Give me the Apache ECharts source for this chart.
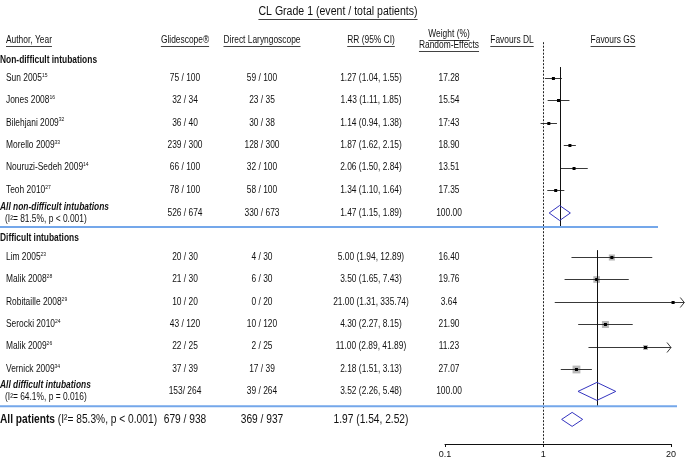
<!DOCTYPE html>
<html><head><meta charset="utf-8">
<script src="https://cdn.jsdelivr.net/npm/echarts@6/dist/echarts.min.js"></script>
<style>html,body{margin:0;padding:0;background:#fff}#c{width:685px;height:462px}</style>
</head><body><div id="c"></div>
<script>
// ---------------- DATA ----------------
const chartTitle = 'CL Grade 1 (event / total patients)';
const headAuthor = 'Author, Year';
const headGS = 'Glidescope®';
const headDL = 'Direct Laryngoscope';
const headRR = 'RR (95% CI)';
const headW1 = 'Weight (%)';
const headW2 = 'Random-Effects';
const headFavDL = 'Favours DL';
const headFavGS = 'Favours GS';

const groupNames = ['Non-difficult intubations', 'Difficult intubations'];

// Non-difficult intubations
const studiesA = ['Sun 2005', 'Jones 2008', 'Bilehjani 2009', 'Morello 2009', 'Nouruzi-Sedeh 2009', 'Teoh 2010'];
const refsA = ['15', '16', '32', '33', '14', '27'];
const gsEventsA = [75, 32, 36, 239, 66, 78];
const gsTotalA = [100, 34, 40, 300, 100, 100];
const dlEventsA = [59, 23, 30, 128, 32, 58];
const dlTotalA = [100, 35, 38, 300, 100, 100];
const rrA = [1.27, 1.43, 1.14, 1.87, 2.06, 1.34];
const loA = [1.04, 1.11, 0.94, 1.62, 1.50, 1.10];
const hiA = [1.55, 1.85, 1.38, 2.15, 2.84, 1.64];
const weightA = ['17.28', '15.54', '17:43', '18.90', '13.51', '17.35'];

// Difficult intubations
const studiesB = ['Lim 2005', 'Malik 2008', 'Robitaille 2008', 'Serocki 2010', 'Malik 2009', 'Vernick 2009'];
const refsB = ['23', '28', '29', '24', '26', '34'];
const gsEventsB = [20, 21, 10, 43, 22, 37];
const gsTotalB = [30, 30, 20, 120, 25, 39];
const dlEventsB = [4, 6, 0, 10, 2, 17];
const dlTotalB = [30, 30, 20, 120, 25, 39];
const rrB = [5.00, 3.50, 21.00, 4.30, 11.00, 2.18];
const loB = [1.94, 1.65, 1.31, 2.27, 2.89, 1.51];
const hiB = [12.89, 7.43, 335.74, 8.15, 41.89, 3.13];
const weightB = ['16.40', '19.76', '3.64', '21.90', '11.23', '27.07'];

// Pooled estimates: [non-difficult, difficult, all patients]
const sumLabels = ['All non-difficult intubations', 'All difficult intubations', 'All patients'];
const sumHet = ['(I²= 81.5%, p < 0.001)', '(I²= 64.1%, p = 0.016)', '(I²= 85.3%, p < 0.001)'];
const sumGS = ['526 / 674', '153/ 264', '679 / 938'];
const sumDL = ['330 / 673', '39 / 264', '369 / 937'];
const sumRR = [1.47, 3.52, 1.97];
const sumLo = [1.15, 2.26, 1.54];
const sumHi = [1.89, 5.48, 2.52];
const sumWeight = ['100.00', '100.00', ''];

const tickValues = [0.1, 1, 20];
const tickLabels = ['0.1', '1', '20'];

// ---------------- LAYOUT ----------------
const FONT = '"Liberation Sans", Arial, Helvetica, sans-serif';
const SX = 0.84;
const COL = { author: 6, gs: 185, dl: 262, rr: 371, w: 449, favDL: 512, favGS: 613 };
const ROW = {
  title: -1.97, head: -0.70, headW1: -0.95, headW2: -0.47,
  groupA: 0.2, firstA: 1, sumA: 7.03, sepA: 7.66,
  groupB: 8.15, firstB: 9, sumB: 15.0, sepB: 15.66, all: 16.25
};
const measureCtx = document.createElement('canvas').getContext('2d');
function tw(str, size, weight, style) {
  measureCtx.font = (style || 'normal') + ' ' + (weight || 'normal') + ' ' + size + 'px ' + FONT;
  return measureCtx.measureText(str).width;
}
function txt(x, y, text, o) {
  o = o || {};
  return {
    type: 'text', x: x, y: y, scaleX: o.sx || SX, scaleY: 1, silent: true,
    style: {
      text: text, x: 0, y: 0, align: o.align || 'left', verticalAlign: 'middle',
      fontSize: o.size || 10, fontFamily: FONT, fontWeight: o.weight || 'normal',
      fontStyle: o.style || 'normal', fill: '#111', rich: o.rich
    }
  };
}
function uline(x, y, text, o) {
  o = o || {};
  const size = o.size || 10;
  const w = tw(text, size, o.weight, o.style) * (o.sx || SX);
  const x1 = (o.align === 'center') ? x - w / 2 : x;
  const yy = Math.round(y + size * 0.5 + 1) + 0.5;
  return { type: 'line', silent: true, shape: { x1: x1, y1: yy, x2: x1 + w, y2: yy },
    style: { stroke: '#111', lineWidth: 0.8 } };
}
function hdr(x, y, text, o) { o = Object.assign({ align: 'center' }, o || {}); return [txt(x, y, text, o), uline(x, y, text, o)]; }
const richStudy = {
  n: { fontSize: 10, fontFamily: FONT, fill: '#111', lineHeight: 12 },
  s: { fontSize: 6, fontFamily: FONT, fill: '#111', lineHeight: 12, verticalAlign: 'top' }
};
function rrText(r, l, h) { return r.toFixed(2) + ' (' + l.toFixed(2) + ', ' + h.toFixed(2) + ')'; }

// ---------------- TABLE ROWS ----------------
const tableRows = [];
tableRows.push({ row: ROW.title, draw: y => hdr(338, y, chartTitle, { size: 12.5, sx: 0.845 }) });
tableRows.push({ row: ROW.head, draw: y => [].concat(
  hdr(COL.author, y, headAuthor, { align: 'left' }),
  hdr(COL.gs, y, headGS), hdr(COL.dl, y, headDL), hdr(COL.rr, y, headRR),
  hdr(COL.favDL, y, headFavDL), hdr(COL.favGS, y, headFavGS)) });
tableRows.push({ row: ROW.headW1, draw: y => hdr(COL.w, y, headW1) });
tableRows.push({ row: ROW.headW2, draw: y => hdr(COL.w, y, headW2) });

function addGroup(gi, names, refs, ge, gt, de, dt, rr, lo, hi, wt, rowGroup, rowFirst) {
  tableRows.push({ row: rowGroup, draw: y => [txt(0, y, groupNames[gi], { weight: 'bold' })] });
  names.forEach((nm, i) => {
    tableRows.push({ row: rowFirst + i, draw: y => [
      txt(COL.author, y, '{n|' + nm + '}{s|' + refs[i] + '}', { rich: richStudy }),
      txt(COL.gs, y, ge[i] + ' / ' + gt[i], { align: 'center' }),
      txt(COL.dl, y, de[i] + ' / ' + dt[i], { align: 'center' }),
      txt(COL.rr, y, rrText(rr[i], lo[i], hi[i]), { align: 'center' }),
      txt(COL.w, y, wt[i], { align: 'center' })
    ] });
  });
}
addGroup(0, studiesA, refsA, gsEventsA, gsTotalA, dlEventsA, dlTotalA, rrA, loA, hiA, weightA, ROW.groupA, ROW.firstA);
addGroup(1, studiesB, refsB, gsEventsB, gsTotalB, dlEventsB, dlTotalB, rrB, loB, hiB, weightB, ROW.groupB, ROW.firstB);

[ROW.sumA, ROW.sumB].forEach((r, k) => {
  tableRows.push({ row: r - 0.26, draw: y => [txt(0, y, sumLabels[k], { weight: 'bold', style: 'italic' })] });
  tableRows.push({ row: r + 0.27, draw: y => [txt(5, y, sumHet[k])] });
  tableRows.push({ row: r, draw: y => [
    txt(COL.gs, y, sumGS[k], { align: 'center' }),
    txt(COL.dl, y, sumDL[k], { align: 'center' }),
    txt(COL.rr, y, rrText(sumRR[k], sumLo[k], sumHi[k]), { align: 'center' }),
    txt(COL.w, y, sumWeight[k], { align: 'center' })
  ] });
});
tableRows.push({ row: ROW.all, draw: y => [
  txt(0, y, '{b|' + sumLabels[2] + '}{r| ' + sumHet[2] + '}', { size: 12, sx: 0.85, rich: {
    b: { fontSize: 12, fontWeight: 'bold', fontFamily: FONT, fill: '#111' },
    r: { fontSize: 12, fontFamily: FONT, fill: '#111' } } }),
  txt(COL.gs, y, sumGS[2], { align: 'center', size: 12, sx: 0.85 }),
  txt(COL.dl, y, sumDL[2], { align: 'center', size: 12, sx: 0.85 }),
  txt(COL.rr, y, rrText(sumRR[2], sumLo[2], sumHi[2]), { align: 'center', size: 12, sx: 0.85 })
] });
function sep(x2) { return y => [{ type: 'line', silent: true, shape: { x1: 0, y1: y, x2: x2, y2: y },
  style: { stroke: '#74a7ea', lineWidth: 2 } }]; }
tableRows.push({ row: ROW.sepA, draw: sep(658) });
tableRows.push({ row: ROW.sepB, draw: sep(677) });

// ---------------- FOREST MARKS ----------------
const forestData = [];
rrA.forEach((v, i) => forestData.push([v, ROW.firstA + i, loA[i], hiA[i], parseFloat(weightA[i].replace(':', '.')), 0]));
rrB.forEach((v, i) => forestData.push([v, ROW.firstB + i, loB[i], hiB[i], parseFloat(weightB[i]), 1]));

const diamondData = [
  [sumRR[0], ROW.sumA, sumLo[0], sumHi[0], 0],
  [sumRR[1], ROW.sumB, sumLo[1], sumHi[1], 1],
  [sumRR[2], ROW.all, sumLo[2], sumHi[2], 2]
];
const diamondHalf = [7.5, 9, 7];
const refLineSpan = [[ROW.firstA - 0.49, ROW.sepA], [ROW.firstB - 0.31, ROW.sepB]];

const chart = echarts.init(document.getElementById('c'));
chart.setOption({
  animation: false,
  backgroundColor: '#fff',
  grid: { left: 445, right: 14, top: 42.2, bottom: 18 },
  xAxis: {
    type: 'log', logBase: 10, min: 0.1, max: 20, position: 'bottom',
    axisLine: { show: true, onZero: false, lineStyle: { color: '#111', width: 1 } },
    axisTick: { show: true, customValues: tickValues, length: 3, lineStyle: { color: '#111' } },
    axisLabel: { customValues: tickValues, color: '#111', fontSize: 9, fontFamily: FONT, margin: 6,
      formatter: v => { const k = tickValues.findIndex(t => Math.abs(t - v) < 1e-9); return k >= 0 ? tickLabels[k] : ''; } },
    splitLine: { show: false }, minorTick: { show: false }
  },
  yAxis: { type: 'value', inverse: true, min: -0.6, max: 17.35, show: false },
  series: [
    {
      type: 'custom', clip: false, silent: true, z: 5,
      data: tableRows.map(r => [1, r.row]),
      renderItem: (params, api) => {
        const y = api.coord([1, api.value(1)])[1];
        return { type: 'group', children: tableRows[params.dataIndex].draw(y) };
      }
    },
    {
      type: 'custom', clip: false, silent: true, z: 4,
      data: forestData,
      renderItem: (params, api) => {
        const est = api.value(0), row = api.value(1), lo = api.value(2), hi = api.value(3), w = api.value(4), g = api.value(5);
        const tipVal = Math.min(hi, Math.max(20, est * 1.3));
        const p = api.coord([est, row]);
        const y = Math.round(p[1]) + 0.5;
        const x1 = api.coord([lo, row])[0], x2 = api.coord([tipVal, row])[0];
        const ch = [];
        if (g === 1) {
          const s = 1.5 * Math.sqrt(w);
          ch.push({ type: 'rect', shape: { x: p[0] - s / 2, y: y - s / 2, width: s, height: s }, style: { fill: '#b8b8b8' } });
        }
        ch.push({ type: 'line', shape: { x1: x1, y1: y, x2: x2, y2: y }, style: { stroke: '#222', lineWidth: 0.9 } });
        if (hi > tipVal) {
          ch.push({ type: 'polyline', shape: { points: [[x2 - 4, y - 5], [x2, y], [x2 - 4, y + 5]] }, style: { stroke: '#222', fill: null, lineWidth: 0.9 } });
        }
        ch.push({ type: 'rect', shape: { x: p[0] - 1.5, y: y - 1.5, width: 3, height: 3 }, style: { fill: '#000' } });
        return { type: 'group', children: ch };
      },
      markLine: {
        silent: true, symbol: 'none', label: { show: false },
        lineStyle: { color: '#222', type: [2, 1.5], width: 1 },
        data: [{ xAxis: 1 }]
      }
    },
    {
      type: 'custom', clip: false, silent: true, z: 4,
      data: diamondData,
      renderItem: (params, api) => {
        const est = api.value(0), row = api.value(1), lo = api.value(2), hi = api.value(3), k = api.value(4);
        const p = api.coord([est, row]);
        const h = diamondHalf[k];
        const xl = api.coord([lo, row])[0], xh = api.coord([hi, row])[0];
        const ch = [];
        if (k < 2) {
          const xr = Math.round(p[0]) + 0.5;
          ch.push({ type: 'line', shape: { x1: xr, y1: api.coord([est, refLineSpan[k][0]])[1], x2: xr, y2: api.coord([est, refLineSpan[k][1]])[1] },
            style: { stroke: '#111', lineWidth: 1 } });
        }
        ch.push({ type: 'polygon', shape: { points: [[xl, p[1]], [p[0], p[1] - h], [xh, p[1]], [p[0], p[1] + h]] },
          style: { stroke: '#3535c0', fill: 'rgba(255,255,255,0)', lineWidth: 1 } });
        return { type: 'group', children: ch };
      }
    }
  ]
});
</script></body></html>
